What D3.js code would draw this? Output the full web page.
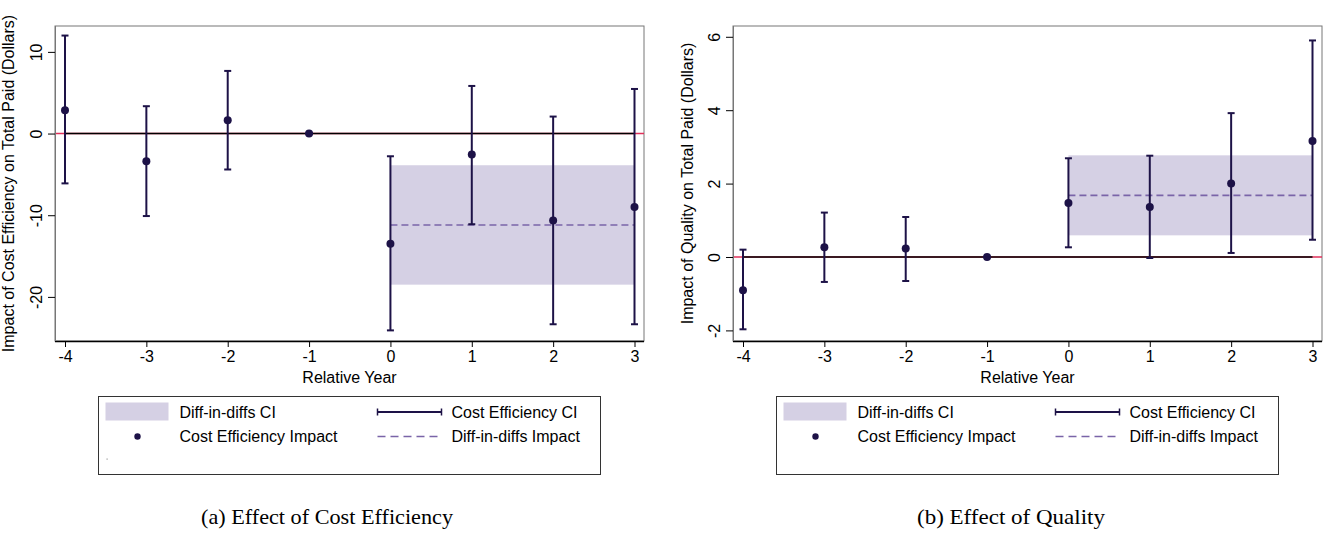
<!DOCTYPE html>
<html>
<head>
<meta charset="utf-8">
<script src="https://cdn.jsdelivr.net/npm/d3@7"></script>
<style>
  html, body { margin: 0; padding: 0; background: #fff; }
  svg { display: block; }
  text { font-family: "Liberation Sans", Arial, sans-serif; fill: #000; }
  .caption { font-family: "Liberation Serif", "Times New Roman", serif; }
</style>
</head>
<body>
<svg id="chart" width="1328" height="533"></svg>
<script>
// Relative years (event time)
const years = [-4, -3, -2, -1, 0, 1, 2, 3];

// Panel (a): cost efficiency
const costPoint = [2.85, -3.4, 1.63, 0, -13.5, -2.57, -10.65, -8.98];
const costLow   = [-6.1, -10.1, -4.4, 0, -24.1, -11.1, -23.35, -23.35];
const costHigh  = [12.0, 3.35, 7.67, 0, -2.78, 5.83, 2.08, 5.46];
const costDid   = [-11.2];            // diff-in-diffs estimate
const costDidCI = [-18.5, -3.88];     // diff-in-diffs CI
const costTicks = [-20, -10, 0, 10];

// Panel (b): quality
const qualPoint = [-0.907, 0.264, 0.23, 0, 1.47, 1.36, 2.0, 3.16];
const qualLow   = [-1.97, -0.68, -0.654, 0, 0.264, -0.027, 0.11, 0.47];
const qualHigh  = [0.2, 1.21, 1.09, 0, 2.69, 2.76, 3.92, 5.9];
const qualDid   = [1.68];
const qualDidCI = [0.59, 2.77];
const qualTicks = [-2, 0, 2, 4, 6];

const legendLabels = ["Diff-in-diffs CI", "Cost Efficiency CI", "Cost Efficiency Impact", "Diff-in-diffs Impact"];
const captions = ["(a) Effect of Cost Efficiency", "(b) Effect of Quality"];
const yTitles = ["Impact of Cost Efficiency on Total Paid (Dollars)", "Impact of Quality on Total Paid (Dollars)"];

const NAVY = "#1d1247";
const BAND = "#d5d0e4";
const DASH = "#7a64a8";
const RED = "#e0305a";
const FS = 16;
const fmt = d => String(d);   // plain hyphen-minus for negatives

const svg = d3.select("#chart");

function panel(opt) {
  const { left, right, top, bottom } = opt.frame;
  const pad = 10;
  const x = d3.scaleLinear().domain([-4, 3]).range([left + pad, right - pad + 0.5]);
  const y = d3.scaleLinear().domain(opt.yDomain).range([bottom, top]);
  const g = svg.append("g");

  // frame
  g.append("rect").attr("x", left).attr("y", top)
    .attr("width", right - left).attr("height", bottom - top)
    .attr("fill", "none").attr("stroke", "#777").attr("stroke-width", 1);

  // diff-in-diffs CI band
  g.append("rect")
    .attr("x", x(0)).attr("y", y(opt.didCI[1]))
    .attr("width", x(3) - x(0)).attr("height", y(opt.didCI[0]) - y(opt.didCI[1]))
    .attr("fill", BAND);

  // reference line at zero
  g.append("line").attr("x1", left).attr("x2", right)
    .attr("y1", y(0)).attr("y2", y(0)).attr("stroke", RED).attr("stroke-width", 1.5);
  g.append("line").attr("x1", x(-4)).attr("x2", x(3))
    .attr("y1", y(0)).attr("y2", y(0)).attr("stroke", "#000").attr("stroke-width", 1.5);

  // diff-in-diffs estimate
  g.append("line").attr("x1", x(0)).attr("x2", x(3))
    .attr("y1", y(opt.did[0])).attr("y2", y(opt.did[0]))
    .attr("stroke", DASH).attr("stroke-width", 1.6).attr("stroke-dasharray", "7,4");

  // confidence intervals
  const ci = g.selectAll("g.ci").data(years).join("g").attr("class", "ci");
  ci.append("line")
    .attr("x1", d => x(d)).attr("x2", d => x(d))
    .attr("y1", (d, i) => y(opt.low[i])).attr("y2", (d, i) => y(opt.high[i]))
    .attr("stroke", NAVY).attr("stroke-width", 2);
  [opt.low, opt.high].forEach(arr => {
    ci.append("line")
      .attr("x1", d => x(d) - 3.5).attr("x2", d => x(d) + 3.5)
      .attr("y1", (d, i) => y(arr[i])).attr("y2", (d, i) => y(arr[i]))
      .attr("stroke", NAVY).attr("stroke-width", 2);
  });

  // point estimates
  g.selectAll("circle.pt").data(years).join("circle").attr("class", "pt")
    .attr("cx", d => x(d)).attr("cy", (d, i) => y(opt.point[i]))
    .attr("r", 4).attr("fill", NAVY);

  // x axis
  const xa = g.append("g").attr("transform", `translate(0,${bottom})`)
    .call(d3.axisBottom(x).tickValues(years).tickSize(6).tickPadding(4).tickFormat(fmt));
  xa.select(".domain").attr("stroke", "#000").attr("stroke-width", 1.5)
    .attr("d", `M${left},0.5H${right}`);
  xa.selectAll(".tick line").attr("stroke", "#000");
  xa.selectAll("text").attr("font-size", FS).attr("font-family", "Liberation Sans, Arial, sans-serif");

  g.append("text").attr("x", (left + right) / 2).attr("y", bottom + 42)
    .attr("text-anchor", "middle").attr("font-size", FS).text("Relative Year");

  // y axis with rotated tick labels
  const ya = g.append("g").attr("transform", `translate(${left},0)`)
    .call(d3.axisLeft(y).tickValues(opt.ticks).tickSize(7).tickFormat(fmt));
  ya.select(".domain").attr("stroke", "#777").attr("d", `M0.5,${top}V${bottom}`);
  ya.selectAll(".tick line").attr("stroke", "#000");
  ya.selectAll(".tick text")
    .attr("x", 0).attr("dy", "0em")
    .attr("transform", "translate(-13,0) rotate(-90)")
    .attr("text-anchor", "middle")
    .attr("font-size", FS).attr("font-family", "Liberation Sans, Arial, sans-serif");

  g.append("text")
    .attr("transform", `translate(${left - opt.titleOff},${(top + bottom) / 2}) rotate(-90)`)
    .attr("text-anchor", "middle").attr("font-size", FS).text(opt.title);

  // legend
  const L = opt.legend;
  const lg = g.append("g");
  lg.append("rect").attr("x", L.x).attr("y", L.y).attr("width", L.w).attr("height", L.h)
    .attr("fill", "#fff").attr("stroke", "#333").attr("stroke-width", 1);
  const r1 = L.y + 15.5, r2 = L.y + 40;
  lg.append("rect").attr("x", L.x + 7).attr("y", L.y + 6).attr("width", 63).attr("height", 18).attr("fill", BAND);
  lg.append("text").attr("x", L.x + 81).attr("y", r1 + 5.5).attr("font-size", FS).text(legendLabels[0]);
  const ex0 = L.x + 279, ex1 = L.x + 343;
  lg.append("line").attr("x1", ex0).attr("x2", ex1).attr("y1", r1).attr("y2", r1).attr("stroke", NAVY).attr("stroke-width", 2);
  [ex0, ex1].forEach(xx => lg.append("line").attr("x1", xx).attr("x2", xx).attr("y1", r1 - 3.5).attr("y2", r1 + 3.5).attr("stroke", NAVY).attr("stroke-width", 1.5));
  lg.append("text").attr("x", L.x + 353).attr("y", r1 + 5.5).attr("font-size", FS).text(legendLabels[1]);
  lg.append("circle").attr("cx", L.x + 39).attr("cy", r2).attr("r", 3.2).attr("fill", NAVY);
  lg.append("text").attr("x", L.x + 81).attr("y", r2 + 5.5).attr("font-size", FS).text(legendLabels[2]);
  lg.append("line").attr("x1", ex0).attr("x2", ex1).attr("y1", r2).attr("y2", r2)
    .attr("stroke", DASH).attr("stroke-width", 1.6).attr("stroke-dasharray", "8,5");
  lg.append("text").attr("x", L.x + 353).attr("y", r2 + 5.5).attr("font-size", FS).text(legendLabels[3]);
  if (opt.legendSpeck) {
    lg.append("rect").attr("x", L.x + 8).attr("y", L.y + 62).attr("width", 1.2).attr("height", 1.2).attr("fill", "#999");
  }

  // caption
  svg.append("text").attr("class", "caption").attr("x", opt.captionX).attr("y", 524)
    .attr("text-anchor", "middle").attr("font-size", 21)
    .attr("textLength", opt.captionW).attr("lengthAdjust", "spacingAndGlyphs")
    .text(opt.caption);
}

panel({
  frame: { left: 55, right: 644, top: 26, bottom: 341 },
  yDomain: [-25.4, 13.17], ticks: costTicks,
  point: costPoint, low: costLow, high: costHigh, did: costDid, didCI: costDidCI,
  title: yTitles[0], titleOff: 41,
  legend: { x: 98.5, y: 396.5, w: 502, h: 78 }, legendSpeck: true,
  caption: captions[0], captionX: 327, captionW: 252
});

panel({
  frame: { left: 733, right: 1322, top: 26, bottom: 341 },
  yDomain: [-2.289, 6.294], ticks: qualTicks,
  point: qualPoint, low: qualLow, high: qualHigh, did: qualDid, didCI: qualDidCI,
  title: yTitles[1], titleOff: 40,
  legend: { x: 776.5, y: 396.5, w: 502, h: 78 }, legendSpeck: false,
  caption: captions[1], captionX: 1011, captionW: 188
});
</script>
</body>
</html>
